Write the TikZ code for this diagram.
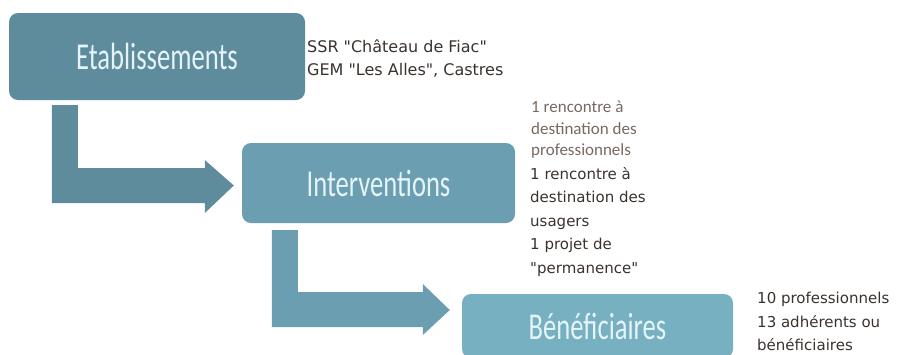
\documentclass[tikz,border=0pt]{standalone}
\usepackage{fontspec}
\usetikzlibrary{calc}
\newfontfamily\boxfont[FakeStretch=0.7]{Carlito}
\newfontfamily\notefont{DejaVu Sans}
\newfontfamily\thinfont{Carlito}
\definecolor{tealA}{RGB}{94,140,156}
\definecolor{tealB}{RGB}{106,158,176}
\definecolor{tealC}{RGB}{118,176,193}
\definecolor{boxtext}{RGB}{228,244,248}
\definecolor{notedark}{RGB}{58,50,45}
\definecolor{notelight}{RGB}{120,105,95}
\begin{document}
\begin{tikzpicture}[x=1pt, y=-1pt, line join=round,
	box/.style={rounded corners=9pt, inner sep=0pt, text=boxtext, font=\boxfont\fontsize{38}{40}\selectfont},
	note/.style={anchor=north west, inner sep=0pt, align=left, text=notedark, font=\notefont\fontsize{15}{23.5}\selectfont}]
			\useasboundingbox (0,0) rectangle (907,354);
			\clip (0,0) rectangle (907,354);
			
			%
			\node[box, fill=tealA, minimum width=296pt, minimum height=87pt] (etab) at (157,56.5) {Etablissements};
			\node[box, fill=tealB, minimum width=273pt, minimum height=80pt] (inter) at (378.5,183) {Interventions};
			\node[box, fill=tealC, minimum width=271pt, minimum height=64pt] (benef) at (597.5,326) {Bénéficiaires};
			
			\coordinate (S1) at ($(etab.south west)+(43,5)$);
			\coordinate (T1) at ($(inter.west)+(-8,2.5)$);
			\coordinate (S2) at ($(inter.south west)+(30,7)$);
			\coordinate (T2) at ($(benef.west)+(-12,-16)$);
			
			\fill[tealA] (S1) -- ++(26,0) |- ($(T1)+(-29,-17.5)$) -- ++(0,-8) -- (T1) -- ++(-29,27.5) -- ++(0,-10) -| (S1) -- cycle;
			\fill[tealB] (S2) -- ++(26,0) |- ($(T2)+(-27,-18)$) -- ++(0,-8) -- (T2) -- ++(-27,25) -- ++(0,-8) -| (S2) -- cycle;
			
			\node[note, font=\notefont\fontsize{16}{23}\selectfont] (etabnote) at (307,39) {SSR "Château de Fiac"\\GEM "Les Alles", Castres};
			\node[note, text=notelight, font=\thinfont\fontsize{17}{21.5}\selectfont] (internote) at (531,101) {1 rencontre à\\destination des\\professionnels};
			\node[note] (usagernote) at (530,167) {1 rencontre à\\destination des\\usagers\\1 projet de\\"permanence"};
			\node[note] (benefnote) at (757,292) {10 professionnels\\13 adhérents ou\\bénéficiaires};
	\end{tikzpicture}
\end{document}
